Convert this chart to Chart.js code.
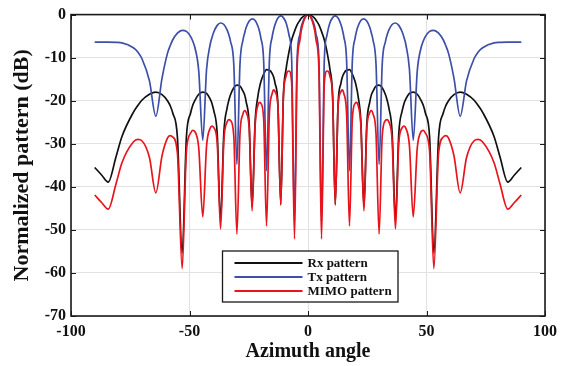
<!DOCTYPE html>
<html>
<head>
<meta charset="utf-8">
<script src="https://cdn.jsdelivr.net/npm/chart.js@4.4.0/dist/chart.umd.min.js"></script>
<style>
  html, body { margin: 0; padding: 0; background: #fff; }
  #wrap { width: 563px; height: 366px; position: relative; }
</style>
</head>
<body>
<div id="wrap"><canvas id="chart"></canvas></div>
<script>
// azimuth samples (deg), denser around every null
let angles = [
  -90, -87, -84.3, -81, -78.5, -73.7, -71.8, -70.1, -66.9, -64.2, -61.6, -59.3, -58.2, -57.1, -55.1, -53.1,
  -51.3, -49.5, -48.6, -47.7, -46.1, -44.4, -42.8, -41.3, -40.5, -39.8, -38.3, -36.9, -35.5, -34.1, -33.4, -32.7,
  -31.3, -30.0, -28.7, -27.4, -26.7, -26.1, -24.8, -23.6, -22.3, -21.1, -20.5, -19.9, -18.7, -17.5, -16.3, -15.1,
  -14.5, -13.9, -12.7, -11.5, -10.4, -9.2, -8.6, -8.0, -6.9, -5.7, -4.6, -3.4, -2.9, -2.3, -1.1,
  0,
  1.1, 2.3, 2.9, 3.4, 4.6, 5.7, 6.9, 8.0, 8.6, 9.2, 10.4, 11.5, 12.7, 13.9, 14.5, 15.1,
  16.3, 17.5, 18.7, 19.9, 20.5, 21.1, 22.3, 23.6, 24.8, 26.1, 26.7, 27.4, 28.7, 30.0, 31.3, 32.7,
  33.4, 34.1, 35.5, 36.9, 38.3, 39.8, 40.5, 41.3, 42.8, 44.4, 46.1, 47.7, 48.6, 49.5, 51.3, 53.1,
  55.1, 57.1, 58.2, 59.3, 61.6, 64.2, 66.9, 70.1, 71.8, 73.7, 78.5, 81, 84.3, 87, 90
];

let rxPattern = [
  -35.5, -37.3, -38.9, -33.0, -28.3, -22.7, -21.1, -19.9, -18.5, -18.0, -18.6, -20.0, -21.1, -22.8, -28.5, -55.4,
  -28.4, -22.8, -21.0, -19.9, -18.5, -18.0, -18.3, -19.6, -20.7, -22.2, -27.7, -47.9, -27.4, -21.6, -19.9, -18.6,
  -17.0, -16.4, -16.6, -17.8, -18.7, -20.2, -25.5, -44.6, -24.8, -18.8, -17.0, -15.6, -13.8, -12.8, -12.9, -13.7,
  -14.5, -15.9, -20.8, -44.0, -19.1, -12.5, -10.4, -8.6, -5.9, -3.9, -2.4, -1.3, -0.9, -0.6, -0.1,
  0,
  -0.1, -0.6, -0.9, -1.3, -2.4, -3.9, -5.9, -8.6, -10.4, -12.5, -19.1, -44.0, -20.8, -15.9, -14.5, -13.7,
  -12.9, -12.8, -13.8, -15.6, -17.0, -18.8, -24.8, -44.6, -25.5, -20.2, -18.7, -17.8, -16.6, -16.4, -17.0, -18.6,
  -19.9, -21.6, -27.4, -47.9, -27.7, -22.2, -20.7, -19.6, -18.3, -18.0, -18.5, -19.9, -21.0, -22.8, -28.4, -55.4,
  -28.5, -22.8, -21.1, -20.0, -18.6, -18.0, -18.5, -19.9, -21.1, -22.7, -28.3, -33.0, -38.9, -37.3, -35.5
];

let txPattern = [
  -6.4, -6.4, -6.4, -6.45, -6.55, -7.7, -8.7, -10.2, -15.4, -23.6, -14.8, -9.0, -7.3, -5.9, -4.3, -3.65,
  -3.9, -5.1, -6.2, -7.7, -13.1, -29.2, -12.7, -7.0, -5.3, -4.1, -2.5, -1.95, -2.3, -3.6, -4.7, -6.2,
  -11.7, -34.8, -11.5, -5.8, -4.2, -3.0, -1.5, -1.0, -1.35, -2.7, -3.8, -5.4, -10.9, -36.3, -10.8, -5.1,
  -3.5, -2.3, -0.8, -0.3, -0.7, -2.0, -3.2, -4.8, -10.3, -48.0, -10.3, -4.6, -3.0, -1.85, -0.45,
  0,
  -0.45, -1.85, -3.0, -4.6, -10.3, -48.0, -10.3, -4.8, -3.2, -2.0, -0.7, -0.3, -0.8, -2.3, -3.5, -5.1,
  -10.8, -36.3, -10.9, -5.4, -3.8, -2.7, -1.35, -1.0, -1.5, -3.0, -4.2, -5.8, -11.5, -34.8, -11.7, -6.2,
  -4.7, -3.6, -2.3, -1.95, -2.5, -4.1, -5.3, -7.0, -12.7, -29.2, -13.1, -7.7, -6.2, -5.1, -3.9, -3.65,
  -4.3, -5.9, -7.3, -9.0, -14.8, -23.6, -15.4, -10.2, -8.7, -7.7, -6.55, -6.45, -6.4, -6.4, -6.4
];

let mimoPattern = [
  -41.9, -43.7, -45.2, -39.3, -34.4, -29.6, -29.0, -29.3, -33.2, -41.4, -32.8, -28.7, -28.1, -28.4, -32.2, -59.0,
  -31.7, -27.5, -26.9, -27.2, -31.0, -47.0, -30.5, -26.4, -25.9, -26.2, -29.8, -49.8, -29.2, -24.9, -24.4, -24.6,
  -28.3, -51.0, -27.7, -23.0, -22.3, -22.7, -26.6, -45.6, -25.7, -21.0, -20.4, -20.6, -24.3, -49.1, -23.2, -18.3,
  -17.5, -17.9, -21.2, -44.3, -19.4, -14.2, -13.2, -13.1, -15.8, -52.1, -12.6, -5.9, -3.9, -2.4, -0.6,
  0,
  -0.6, -2.4, -3.9, -5.9, -12.6, -52.1, -15.8, -13.1, -13.2, -14.2, -19.4, -44.3, -21.2, -17.9, -17.5, -18.3,
  -23.2, -49.1, -24.3, -20.6, -20.4, -21.0, -25.7, -45.6, -26.6, -22.7, -22.3, -23.0, -27.7, -51.0, -28.3, -24.6,
  -24.4, -24.9, -29.2, -49.8, -29.8, -26.2, -25.9, -26.4, -30.5, -47.0, -31.0, -27.2, -26.9, -27.5, -31.7, -59.0,
  -32.2, -28.4, -28.1, -28.7, -32.8, -41.4, -33.2, -29.3, -29.0, -29.6, -34.4, -39.3, -45.2, -43.7, -41.9
];

let seriesNames = ['Rx pattern', 'Tx pattern', 'MIMO pattern'];
let seriesColors = ['#111111', '#3d4fa6', '#e8141c'];
let xTicks = [-100, -50, 0, 50, 100];
let yTicks = [0, -10, -20, -30, -40, -50, -60, -70];

let serif = "'Liberation Serif', 'Times New Roman', serif";

let toPoints = (values) => angles.map((a, i) => ({ x: a, y: values[i] }));

// box, inward ticks and the legend panel
let framePlugin = {
  id: 'frame',
  afterDatasetsDraw(chart) {
    let { ctx, chartArea: a, scales: { x, y } } = chart;
    ctx.save();
    ctx.strokeStyle = '#1a1a1a';
    ctx.lineWidth = 1;
    ctx.beginPath();
    xTicks.forEach((v) => {
      let px = Math.round(x.getPixelForValue(v)) + 0.5;
      ctx.moveTo(px, a.bottom); ctx.lineTo(px, a.bottom - 5);
      ctx.moveTo(px, a.top); ctx.lineTo(px, a.top + 5);
    });
    yTicks.forEach((v) => {
      let py = Math.round(y.getPixelForValue(v)) + 0.5;
      ctx.moveTo(a.left, py); ctx.lineTo(a.left + 5, py);
      ctx.moveTo(a.right, py); ctx.lineTo(a.right - 5, py);
    });
    ctx.stroke();
    ctx.lineWidth = 1.6;
    ctx.strokeRect(a.left, a.top, a.right - a.left, a.bottom - a.top);

    // legend
    let bx = 222.5, by = 251, bw = 175.5, bh = 51;
    ctx.fillStyle = '#fff';
    ctx.fillRect(bx, by, bw, bh);
    ctx.lineWidth = 1.3;
    ctx.strokeStyle = '#1a1a1a';
    ctx.strokeRect(bx, by, bw, bh);
    ctx.font = 'bold 13px ' + serif;
    ctx.textBaseline = 'middle';
    ctx.textAlign = 'left';
    chart.data.datasets.forEach((ds, i) => {
      let ry = by + 12 + i * 14;
      ctx.strokeStyle = ds.borderColor;
      ctx.lineWidth = 2.2;
      ctx.beginPath();
      ctx.moveTo(bx + 12, ry);
      ctx.lineTo(bx + 80, ry);
      ctx.stroke();
      ctx.fillStyle = '#111';
      ctx.fillText(ds.label, bx + 85, ry + 1);
    });
    ctx.restore();
  }
};

let chart = new Chart(document.getElementById('chart'), {
  type: 'line',
  data: {
    datasets: [
      { label: seriesNames[0], data: toPoints(rxPattern), borderColor: seriesColors[0], order: 2 },
      { label: seriesNames[1], data: toPoints(txPattern), borderColor: seriesColors[1], order: 1 },
      { label: seriesNames[2], data: toPoints(mimoPattern), borderColor: seriesColors[2], order: 0 },
    ],
  },
  options: {
    responsive: true,
    maintainAspectRatio: false,
    animation: false,
    layout: { padding: { top: 11, right: 16, left: 0, bottom: 0 } },
    elements: {
      point: { radius: 0 },
      line: { borderWidth: 1.7, cubicInterpolationMode: 'monotone' },
    },
    plugins: {
      legend: { display: false },
      tooltip: { enabled: false },
    },
    scales: {
      x: {
        type: 'linear',
        min: -100,
        max: 100,
        afterBuildTicks: (scale) => { scale.ticks = xTicks.map((v) => ({ value: v })); },
        afterFit: (scale) => { scale.height = 50; },
        grid: { color: '#e2e2e2', lineWidth: 1, drawTicks: false },
        border: { display: false },
        ticks: {
          padding: 6,
          color: '#111',
          font: { family: serif, size: 16, weight: 'bold' },
          callback: (v) => String(v),
        },
        title: {
          display: true,
          text: 'Azimuth angle',
          color: '#111',
          padding: { top: 0, bottom: 2 },
          font: { family: serif, size: 20, weight: 'bold' },
        },
      },
      y: {
        min: -70,
        max: 0,
        afterBuildTicks: (scale) => { scale.ticks = yTicks.map((v) => ({ value: v })); },
        afterFit: (scale) => { scale.width = 71; },
        grid: { color: '#e2e2e2', lineWidth: 1, drawTicks: false },
        border: { display: false },
        ticks: {
          padding: 5,
          color: '#111',
          font: { family: serif, size: 16, weight: 'bold' },
          callback: (v) => String(v),
        },
        title: {
          display: true,
          text: 'Normalized pattern (dB)',
          color: '#111',
          padding: { top: 9, bottom: 0 },
          font: { family: serif, size: 22, weight: 'bold' },
        },
      },
    },
  },
  plugins: [framePlugin],
});
</script>
</body>
</html>
